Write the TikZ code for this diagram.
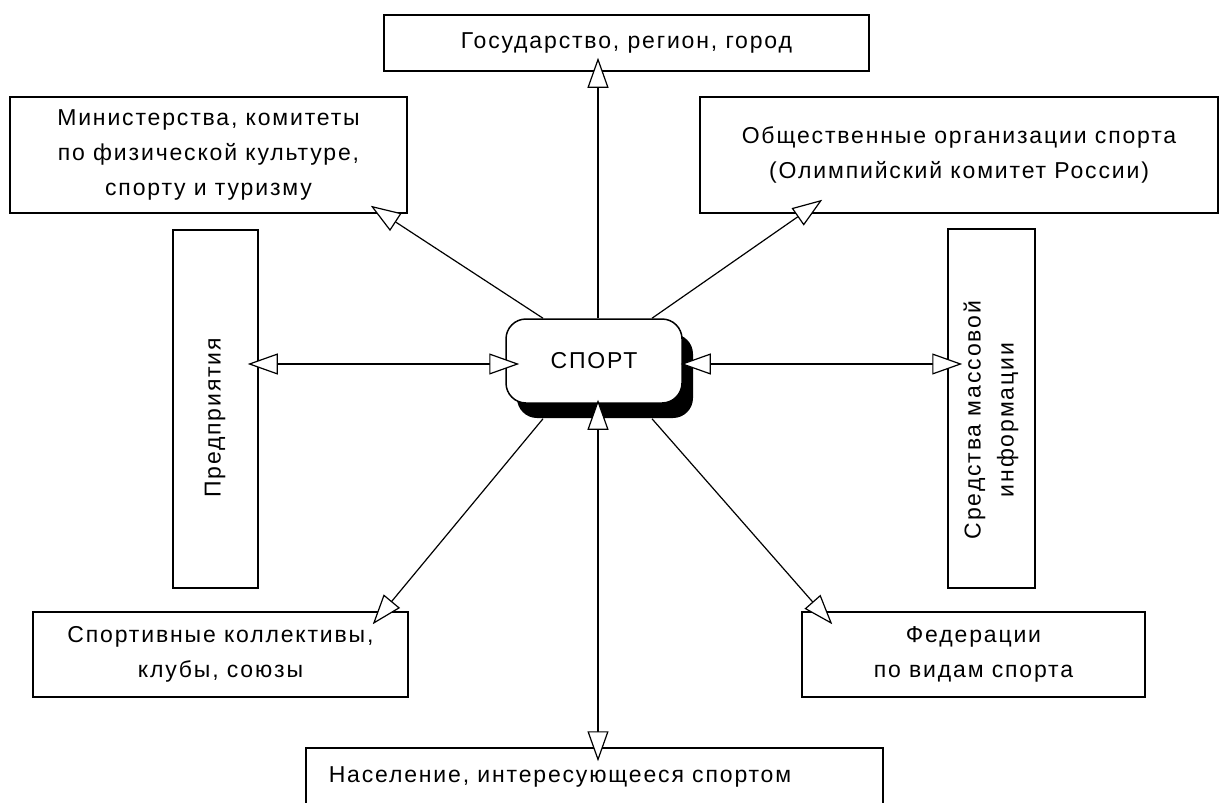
\documentclass[tikz,border=0pt]{standalone}
\usepackage{fontspec}
\setmainfont[LetterSpace=8]{Liberation Sans}
\usetikzlibrary{arrows.meta,shadows}
\newcommand\diafont{\fontsize{23}{35}\selectfont}
\begin{document}
\begin{tikzpicture}[x=1pt,y=-1pt,
  box/.style={draw, line width=1.5pt, inner sep=0pt, align=center, font=\diafont},
  lbl/.style={inner sep=0pt, align=center, font=\diafont},
  tip/.style={Triangle[length=30pt,width=21pt,fill=white,line width=1.2pt]},
  arr/.style={line width=1.2pt, -{Triangle[length=30pt,width=21pt,fill=white,line width=1.2pt]}},
  dbl/.style={line width=1.2pt, {Triangle[length=30pt,width=21pt,fill=white,line width=1.2pt]}-{Triangle[length=30pt,width=21pt,fill=white,line width=1.2pt]}},
  hub/.style={draw, line width=1.5pt, fill=white, rounded corners=20pt, inner sep=0pt,
    minimum width=176pt, minimum height=84pt, font=\diafont,
    general shadow={fill=black, shadow xshift=11pt, shadow yshift=-15pt}}
]
\fill[white] (0,0) rectangle (1221,803);
\useasboundingbox (0,0) rectangle (1221,803);

% boxes
\node[box, minimum width=485pt, minimum height=56pt] (top) at (626.5,43) {Государство, регион, город};
\node[box, minimum width=397pt, minimum height=116pt] (min) at (208.5,155)
  {Министерства, комитеты\\по физической культуре,\\спорту и туризму};
\node[box, minimum width=518pt, minimum height=116pt] (soc) at (959,155)
  {Общественные организации спорта\\(Олимпийский комитет России)};
\node[box, minimum width=85pt, minimum height=358pt] (pred) at (215.5,409) {};
\node[lbl, rotate=90] (predt) at (215,418) {Предприятия};
\node[box, minimum width=87pt, minimum height=359pt] (smi) at (991.5,408.5) {};
\node[lbl, rotate=90, execute at begin node={\baselineskip=33pt}] (smit) at (991,420) {Средства массовой\\информации};
\node[box, minimum width=375pt, minimum height=85pt] (clubs) at (220.5,654.5)
  {Спортивные коллективы,\\клубы, союзы};
\node[box, minimum width=343pt, minimum height=85pt] (fed) at (973.5,654.5)
  {Федерации\\по видам спорта};
\node[box, minimum width=577pt, minimum height=84pt] (pop) at (594.5,790) {};
\node[lbl] (popt) at (560,777) {Население, интересующееся спортом};

% hub
\node[hub] (c) at (594,361) {СПОРТ};

\coordinate (vx) at (598,0);
\coordinate (hy) at (0,364);

% connectors
\draw[arr, shorten >=-14pt] (vx |- c.north) -- (vx |- top.south);
\draw[dbl, shorten <=-4pt, shorten >=-14pt] (vx |- c.south) -- (vx |- pop.north);
\draw[dbl, shorten <=-11pt, shorten >=-14pt] (pred.east |- hy) -- (c.west |- hy);
\draw[dbl, shorten <=-2pt, shorten >=-15pt] (c.east |- hy) -- (smi.west |- hy);
\draw[arr] ([xshift=-51pt]c.north) -- ([xshift=-37pt,yshift=8pt]min.south east);
\draw[arr] ([xshift=58pt]c.north) -- ([xshift=123pt,yshift=14pt]soc.south west);
\draw[arr] ([xshift=-51pt,yshift=-15pt]c.south) -- ([xshift=-36pt,yshift=-13pt]clubs.north east);
\draw[arr] ([xshift=58pt,yshift=-15pt]c.south) -- ([xshift=31pt,yshift=-13pt]fed.north west);
\end{tikzpicture}
\end{document}
